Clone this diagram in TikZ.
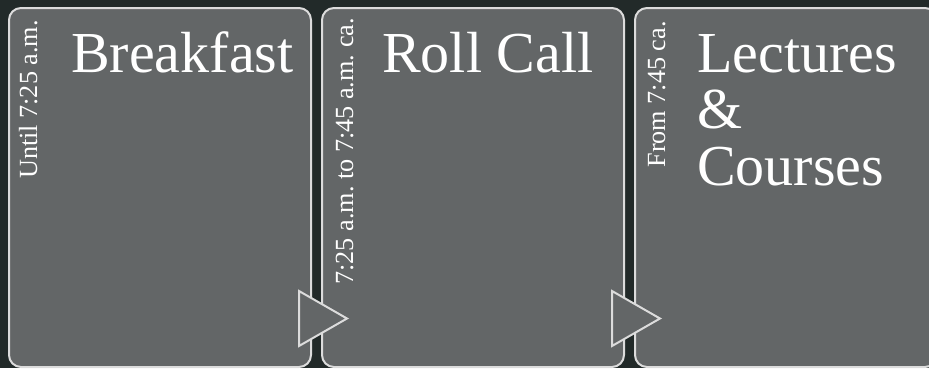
\documentclass[tikz,border=0pt]{standalone}
\usepackage{fontspec}
\setmainfont{Liberation Serif}
\usetikzlibrary{positioning, calc}

\definecolor{bgdark}{HTML}{222A29}
\definecolor{panelgray}{HTML}{636667}
\definecolor{panelline}{HTML}{DCDCDC}

\tikzset{
  panel/.style={draw=panelline, line width=2pt, fill=panelgray, rounded corners=12pt,
    minimum width=302pt, minimum height=359pt, inner sep=0pt, outer sep=0pt},
  heading/.style={text=white, font=\rmfamily\fontsize{58}{56.5}\selectfont, inner sep=0pt, anchor=base west},
  timelabel/.style={text=white, font=\rmfamily\fontsize{26.2}{28}\selectfont, inner sep=0pt, rotate=90, anchor=base east},
  chevron/.style={draw=panelline, line width=2pt, fill=panelgray, line join=miter}
}

\begin{document}
\begin{tikzpicture}[x=1pt, y=1pt]
  \useasboundingbox (0,0) rectangle (929,368);
  \fill[bgdark] (0,0) rectangle (929,368);
  \clip (0,0) rectangle (929,368);

  % the three panels
  \node[panel] (breakfast) at (160,180.5) {};
  \node[panel, right=11pt of breakfast] (rollcall) {};
  \node[panel, right=11pt of rollcall] (lectures) {};

  \node[heading] (breakfasttitle) at ($(breakfast.north west)+(62,-64)$) {Breakfast};
  \node[heading] (rollcalltitle) at ($(rollcall.north west)+(60,-64)$) {Roll Call};
  \node[heading, text width=220pt, align=left] (lecturestitle) at ($(lectures.north west)+(62,-64)$) {Lectures\\\&\\Courses};

  \node[timelabel] (breakfasttime) at ($(breakfast.north west)+(28,-12)$) {Until 7:25 a.m.};
  \node[timelabel] (rollcalltime) at ($(rollcall.north west)+(31,-10)$) {7:25 a.m.\ to 7:45 a.m.\ ca.};
  \node[timelabel] (lecturestime) at ($(lectures.north west)+(30,-13)$) {From 7:45 ca.};

  % arrows between panels
  \draw[chevron] ($(breakfast.south east)+(-12,76)$) -- ++(48,-27.5) -- ++(-48,-27.5) -- cycle;
  \draw[chevron] ($(rollcall.south east)+(-12,76)$) -- ++(48,-27.5) -- ++(-48,-27.5) -- cycle;
\end{tikzpicture}
\end{document}
